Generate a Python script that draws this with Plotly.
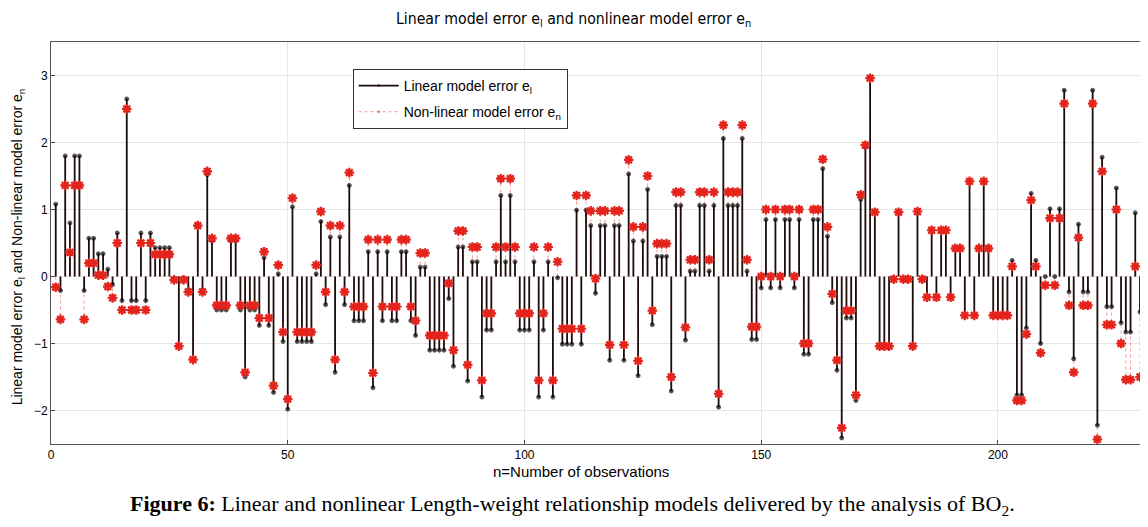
import plotly.graph_objects as go

obs = list(range(1, 231))

linear_err = [
    1.08, -0.21, 1.8, 0.8, 1.8, 1.8, -0.21, 0.57, 0.57, 0.34,
    0.34, 0.11, -0.12, 0.65, -0.36, 2.65, -0.36, -0.36, 0.65, -0.36,
    0.65, 0.43, 0.43, 0.43, 0.43, -0.03, -1.05, -0.03, -0.2, -1.24,
    0.78, -0.2, 1.52, 0.53, -0.5, -0.5, -0.5, 0.53, 0.53, -0.5,
    -1.5, -0.5, -0.5, -0.73, 0.28, -0.73, -1.73, 0.04, -0.97, -1.98,
    1.04, -0.97, -0.97, -0.97, -0.97, 0.04, 0.82, -0.42, 0.59, -1.43,
    0.59, -0.42, 1.36, -0.66, -0.66, -0.66, 0.37, -1.66, 0.37, -0.66,
    0.37, -0.66, -0.66, 0.37, 0.37, -0.66, -0.88, 0.14, 0.14, -1.1,
    -1.1, -1.1, -1.1, -0.33, -1.34, 0.44, 0.44, -1.56, 0.22, 0.22,
    -1.8, -0.8, -0.8, 0.22, 1.21, 0.22, 1.21, 0.22, -0.8, -0.8,
    -0.8, 0.22, -1.8, -0.8, 0.22, -1.8, -0.02, -1.01, -1.01, -1.01,
    0.99, -1.01, 0.99, 0.76, -0.25, 0.76, 0.76, -1.25, 0.76, 0.76,
    -1.25, 1.53, 0.53, -1.48, 0.53, 1.3, -0.72, 0.3, 0.3, 0.3,
    -1.71, 1.06, 1.06, -0.95, 0.08, 0.08, 1.06, 1.06, 0.08, 1.06,
    -1.95, 2.06, 1.06, 1.06, 1.06, 2.06, 0.08, -0.94, -0.94, -0.17,
    0.85, -0.17, 0.85, -0.17, 0.85, 0.85, -0.17, 0.85, -1.16, -1.16,
    0.85, 0.85, 1.61, 0.6, -0.39, -1.4, -2.41, -0.62, -0.62, -1.85,
    1.15, 1.93, 2.97, 0.96, -1.05, -1.05, -1.05, -0.05, 0.96, -0.05,
    -0.05, -1.05, 0.96, -0.05, -0.3, 0.69, -0.3, 0.69, 0.69, -0.3,
    0.43, 0.43, -0.58, 1.43, -0.58, 0.43, 1.43, 0.43, -0.58, -0.58,
    -0.58, -0.58, 0.24, -1.77, -1.77, -0.77, 1.24, 0.24, -1.0, 0.0,
    1.01, 0.0, 1.01, 2.78, -0.23, -1.23, 0.78, -0.23, -0.23, 2.78,
    -2.22, 1.78, -0.45, -0.45, 1.32, -0.69, -0.83, -0.83, 0.95, -0.53,
]

nonlinear_err = [
    -0.16, -0.64, 1.36, 0.36, 1.36, 1.36, -0.64, 0.2, 0.2, 0.02,
    0.02, -0.15, -0.32, 0.5, -0.5, 2.5, -0.5, -0.5, 0.5, -0.5,
    0.5, 0.33, 0.33, 0.33, 0.33, -0.05, -1.04, -0.05, -0.23, -1.24,
    0.76, -0.23, 1.57, 0.57, -0.43, -0.43, -0.43, 0.57, 0.57, -0.43,
    -1.43, -0.43, -0.43, -0.62, 0.37, -0.62, -1.63, 0.17, -0.83, -1.83,
    1.17, -0.83, -0.83, -0.83, -0.83, 0.17, 0.97, -0.23, 0.76, -1.24,
    0.76, -0.23, 1.55, -0.45, -0.45, -0.45, 0.55, -1.44, 0.55, -0.45,
    0.55, -0.45, -0.45, 0.55, 0.55, -0.45, -0.66, 0.35, 0.35, -0.88,
    -0.88, -0.88, -0.88, -0.1, -1.1, 0.68, 0.68, -1.32, 0.44, 0.44,
    -1.55, -0.55, -0.55, 0.44, 1.46, 0.44, 1.46, 0.44, -0.55, -0.55,
    -0.55, 0.44, -1.55, -0.55, 0.44, -1.55, 0.22, -0.78, -0.78, -0.78,
    1.21, -0.78, 1.21, 0.98, -0.03, 0.98, 0.98, -1.02, 0.98, 0.98,
    -1.02, 1.74, 0.74, -1.26, 0.74, 1.5, -0.51, 0.49, 0.49, 0.49,
    -1.5, 1.26, 1.26, -0.76, 0.25, 0.25, 1.26, 1.26, 0.25, 1.26,
    -1.75, 2.26, 1.26, 1.26, 1.26, 2.26, 0.25, -0.75, -0.75, 0.0,
    1.0, 0.0, 1.0, 0.0, 1.0, 1.0, 0.0, 1.0, -1.0, -1.0,
    1.0, 1.0, 1.75, 0.74, -0.26, -1.25, -2.26, -0.51, -0.51, -1.77,
    1.22, 1.96, 2.96, 0.96, -1.04, -1.04, -1.04, -0.04, 0.96, -0.04,
    -0.04, -1.04, 0.97, -0.04, -0.31, 0.69, -0.31, 0.69, 0.69, -0.31,
    0.42, 0.42, -0.58, 1.42, -0.58, 0.42, 1.42, 0.42, -0.58, -0.58,
    -0.58, -0.58, 0.15, -1.85, -1.85, -0.86, 1.14, 0.15, -1.14, -0.13,
    0.87, -0.13, 0.87, 2.58, -0.43, -1.43, 0.58, -0.43, -0.43, 2.58,
    -2.43, 1.57, -0.72, -0.72, 1.0, -1.0, -1.54, -1.54, 0.15, -1.5,
]

x_ticks = [0, 50, 100, 150, 200]
y_ticks = [-2, -1, 0, 1, 2, 3]

RED = "#e4241c"


def stems(xs, ys, tip_size):
    sx, sy, sz = [], [], []
    for a, b in zip(xs, ys):
        sx += [a, a, None]
        sy += [0, b, None]
        sz += [0, tip_size, 0]
    return sx, sy, sz


lx, ly, lsz = stems(obs, linear_err, 4)
nx, ny, nsz = stems(obs, nonlinear_err, 7)

fig = go.Figure()
# red dotted stems (below the black ones); carries the legend entry
fig.add_trace(go.Scatter(
    x=nx, y=ny, mode="lines+markers", name="Non-linear model error e<sub>n</sub>",
    legendgroup="b", legendrank=2,
    line=dict(color="#f29a92", width=1, dash="dot"),
    marker=dict(color=RED, size=nsz, symbol="circle"),
    connectgaps=False, hoverinfo="skip",
))
# black stems
fig.add_trace(go.Scatter(
    x=lx, y=ly, mode="lines+markers", name="Linear model error e<sub>l</sub>",
    legendgroup="a", legendrank=1,
    line=dict(color="#1c0c0c", width=1.8),
    marker=dict(color="black", size=lsz, symbol="circle"),
    connectgaps=False, hoverinfo="skip",
))
# red star heads on top
fig.add_trace(go.Scatter(
    x=obs, y=nonlinear_err, mode="markers", showlegend=False,
    marker=dict(color=RED, size=4.5, symbol="circle"),
    hoverinfo="skip",
))
fig.add_trace(go.Scatter(
    x=obs, y=nonlinear_err, mode="markers", showlegend=False,
    marker=dict(color=RED, size=8, symbol="asterisk-open",
                line=dict(color=RED, width=2.2)),
    hoverinfo="skip",
))

sans = "Liberation Sans, Arial, sans-serif"
tick_font = dict(family=sans, size=12, color="black")

fig.update_layout(
    width=1132, height=511,
    margin=dict(l=43, r=0, t=34, b=75, autoexpand=False),
    paper_bgcolor="white", plot_bgcolor="white",
    title=dict(
        text="Linear model error e<sub>l</sub> and nonlinear model error e<sub>n</sub>",
        x=0.4996, xanchor="center", y=0.98, yanchor="middle",
        font=dict(family="Liberation Sans Narrow, DejaVu Sans Condensed, Arial Narrow, sans-serif",
                  size=15.7, color="black"),
    ),
    showlegend=True,
    legend=dict(
        x=0.277, y=0.933, xanchor="left", yanchor="top",
        bgcolor="white", bordercolor="#333333", borderwidth=1,
        font=dict(family=sans, size=14, color="black"),
        tracegroupgap=5, itemwidth=40,
    ),
    xaxis=dict(
        range=[0, 230], tickvals=x_ticks, ticks="inside", ticklen=4,
        tickcolor="#444", showline=True, linecolor="#555", linewidth=1, mirror=True,
        showgrid=True, gridcolor="#e6e6e6", gridwidth=1, zeroline=False,
        tickfont=tick_font, automargin=False,
    ),
    yaxis=dict(
        range=[-2.5, 3.5], tickvals=y_ticks, ticks="inside", ticklen=4,
        tickcolor="#444", showline=True, linecolor="#555", linewidth=1, mirror=True,
        showgrid=True, gridcolor="#e6e6e6", gridwidth=1, zeroline=False,
        tickfont=tick_font, automargin=False,
    ),
    annotations=[
        dict(
            text="n=Number of observations",
            xref="paper", yref="paper", x=0.487, y=-0.068,
            xanchor="center", yanchor="middle", showarrow=False,
            font=dict(family=sans, size=15, color="black"),
        ),
        dict(
            text="Linear model error e<sub>l</sub> and Non-linear model error e<sub>n</sub>",
            xref="paper", yref="paper", x=-0.030, y=0.49, textangle=-90,
            xanchor="center", yanchor="middle", showarrow=False,
            font=dict(family=sans, size=14, color="black"),
        ),
        dict(
            text="<b>Figure 6:</b> Linear and nonlinear Length-weight relationship models delivered by the analysis of BO<sub>2</sub>.",
            xref="paper", yref="paper", x=0.479, y=-0.152, xanchor="center", yanchor="middle",
            showarrow=False,
            font=dict(family="Liberation Serif, Times New Roman, serif", size=22, color="black"),
        ),
    ],
)

fig.write_html("out.html")
